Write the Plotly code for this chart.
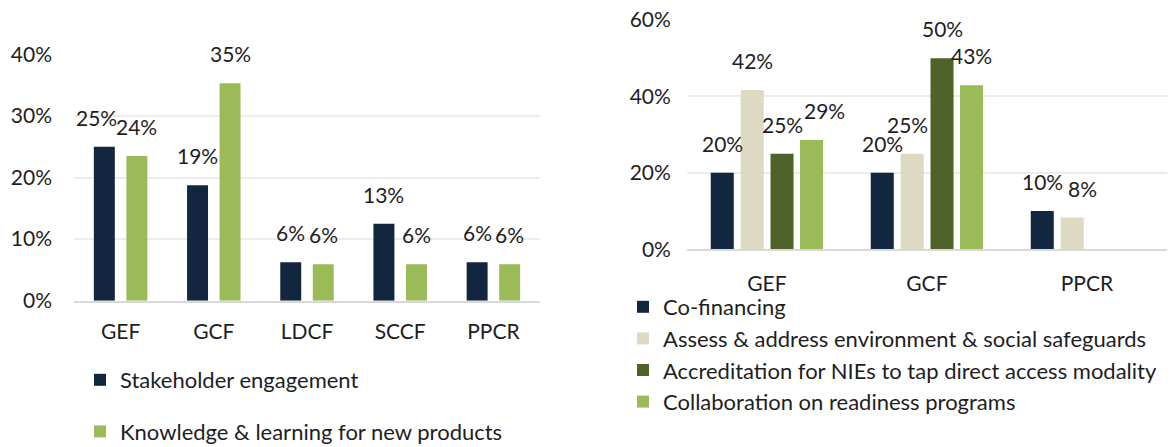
import plotly.graph_objects as go

# ---------------- data ----------------
left_categories = ["GEF", "GCF", "LDCF", "SCCF", "PPCR"]
stakeholder_engagement = [25.0, 18.75, 6.25, 12.5, 6.25]
knowledge_learning = [23.5, 35.3, 5.9, 5.9, 5.9]

right_categories = ["GEF", "GCF", "PPCR"]
co_financing = [20.0, 20.0, 10.0]
assess_safeguards = [41.7, 25.0, 8.3]
accreditation_nies = [25.0, 50.0, None]
collaboration_readiness = [28.6, 42.9, None]

left_ticks = [0, 10, 20, 30, 40]
right_ticks = [0, 20, 40, 60]

# ---------------- styles ----------------
NAVY = "#12263F"
LIGHT_GREEN = "#9BBB59"
BEIGE = "#DDD9C3"
DARK_GREEN = "#4F6228"
FONT = "Lato"
TXT = "#1E1E1E"
FS = 21
LFS = 22

W, H = 1171, 447
left_dom_x = [74 / W, 540 / W]
left_dom_y = [1 - 300.7 / H, 1 - 54.3 / H]
right_dom_x = [686.9 / W, 1166.9 / W]
right_dom_y = [1 - 249.3 / H, 1 - 20 / H]

left_series = [
    ("Stakeholder engagement", stakeholder_engagement, NAVY),
    ("Knowledge & learning for new products", knowledge_learning, LIGHT_GREEN),
]
left_width = 0.225
left_offsets = [-0.287, 0.062]

right_series = [
    ("Co-financing", co_financing, NAVY),
    ("Assess & address environment & social safeguards", assess_safeguards, BEIGE),
    ("Accreditation for NIEs to tap direct access modality", accreditation_nies, DARK_GREEN),
    ("Collaboration on readiness programs", collaboration_readiness, LIGHT_GREEN),
]
right_width = 0.144
right_offsets = [-0.351, -0.164, 0.0225, 0.207]

# label nudges (pixels) to avoid overlaps: (panel, series index, category index) -> dx
nudges = {("L", 0, 0): -8, ("R", 3, 0): 13, ("R", 1, 1): -5, ("R", 1, 2): 10}


def pct(v):
    return f"{int(v + 0.5)}%"


fig = go.Figure()
annotations = []

for si, (name, vals, col) in enumerate(left_series):
    fig.add_trace(go.Bar(
        x=left_categories, y=vals, name=name, marker_color=col,
        marker_line_width=0, width=left_width, offset=left_offsets[si],
        xaxis="x", yaxis="y", legend="legend", legendgroup=name,
    ))
    for ci, v in enumerate(vals):
        if v is None:
            continue
        annotations.append(dict(
            x=ci + left_offsets[si] + left_width / 2, y=v, xref="x", yref="y",
            text=pct(v), showarrow=False, yanchor="bottom", yshift=15,
            xshift=nudges.get(("L", si, ci), 0),
            font=dict(family=FONT, size=FS, color=TXT),
        ))

for si, (name, vals, col) in enumerate(right_series):
    fig.add_trace(go.Bar(
        x=right_categories, y=vals, name=name, marker_color=col,
        marker_line_width=0, width=right_width, offset=right_offsets[si],
        xaxis="x2", yaxis="y2", legend="legend2", legendgroup=name,
    ))
    for ci, v in enumerate(vals):
        if v is None:
            continue
        annotations.append(dict(
            x=ci + right_offsets[si] + right_width / 2, y=v, xref="x2", yref="y2",
            text=pct(v), showarrow=False, yanchor="bottom", yshift=15,
            xshift=nudges.get(("R", si, ci), 0),
            font=dict(family=FONT, size=FS, color=TXT),
        ))

GRID = "#ECECEC"
AXL = "#D9D9D9"
tickfont = dict(family=FONT, size=FS, color=TXT)

fig.update_layout(
    width=W, height=H,
    margin=dict(l=0, r=0, t=0, b=0, autoexpand=False),
    paper_bgcolor="white", plot_bgcolor="white",
    barmode="overlay",
    showlegend=True,
    font=dict(family=FONT, size=FS, color=TXT),
    annotations=annotations,
    xaxis=dict(domain=left_dom_x, anchor="y", type="category", range=[-0.5, 4.5],
               showgrid=False, showline=True, linecolor=AXL, linewidth=2,
               ticks="", tickfont=tickfont, ticklabelstandoff=11, fixedrange=True),
    yaxis=dict(domain=left_dom_y, anchor="x", range=[0, 40], tickvals=left_ticks,
               ticktext=[f"{t}%" for t in left_ticks], showgrid=True, gridcolor=GRID,
               gridwidth=2, zeroline=False, showline=False, ticks="",
               tickfont=tickfont, ticklabelstandoff=21),
    xaxis2=dict(domain=right_dom_x, anchor="y2", type="category", range=[-0.5, 2.5],
                showgrid=False, showline=True, linecolor=AXL, linewidth=2,
                ticks="", tickfont=tickfont, ticklabelstandoff=14),
    yaxis2=dict(domain=right_dom_y, anchor="x2", range=[0, 60], tickvals=right_ticks,
                ticktext=[f"{t}%" for t in right_ticks], showgrid=True, gridcolor=GRID,
                gridwidth=2, zeroline=False, showline=False, ticks="",
                tickfont=tickfont, ticklabelstandoff=15),
    legend=dict(x=80 / W, y=1 - 359 / H, xanchor="left", yanchor="top",
                orientation="v", traceorder="grouped", tracegroupgap=20,
                font=dict(family=FONT, size=LFS, color=TXT), bgcolor="rgba(0,0,0,0)",
                itemclick=False, itemdoubleclick=False),
    legend2=dict(x=623 / W, y=1 - 286 / H, xanchor="left", yanchor="top",
                 orientation="v", traceorder="grouped", tracegroupgap=0,
                 font=dict(family=FONT, size=LFS, color=TXT), bgcolor="rgba(0,0,0,0)",
                 itemclick=False, itemdoubleclick=False),
)

fig.write_html(
    "out.html",
    config={"displayModeBar": False},
    post_script="document.body.style.margin='0';document.body.style.overflow='hidden';",
)
